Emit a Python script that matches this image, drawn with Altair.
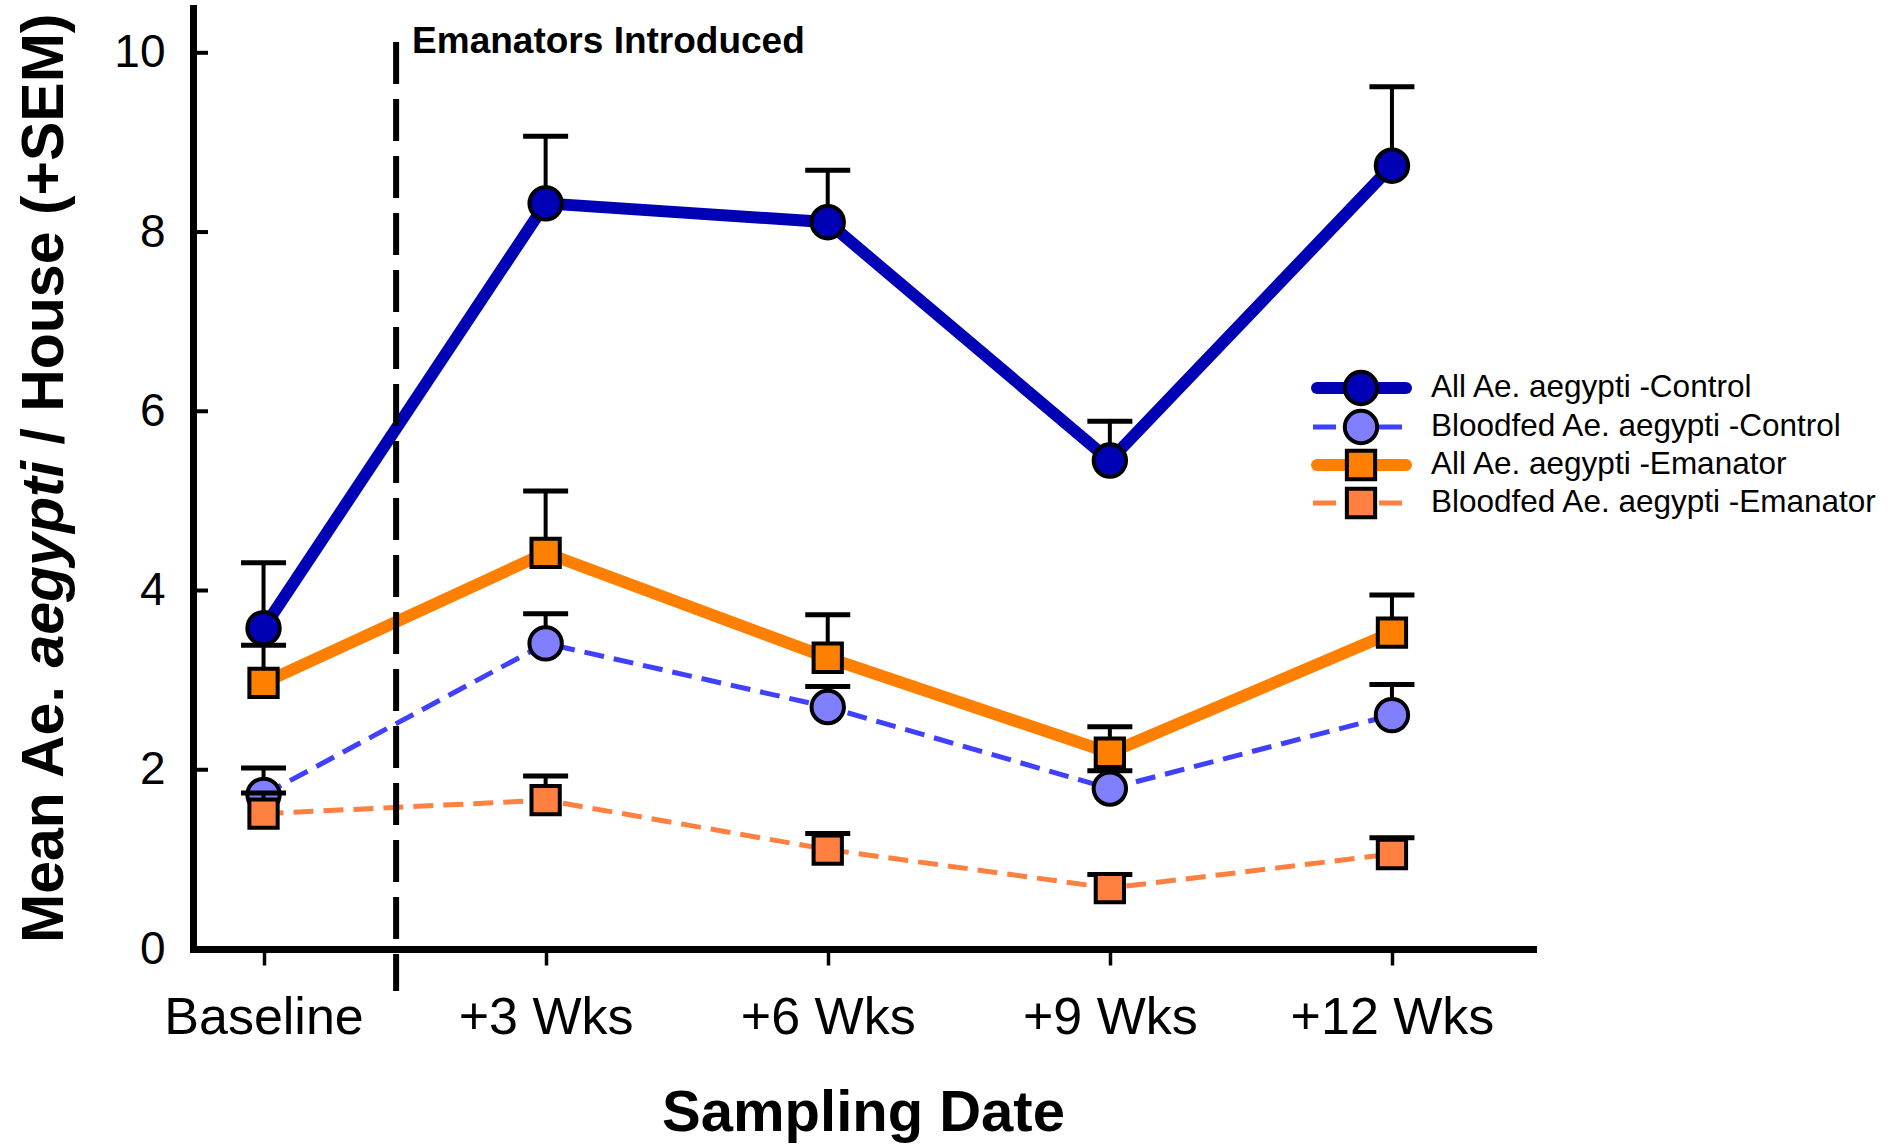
import json
import altair as alt
import pandas as pd

# ---------------- data ----------------
dates = ["Baseline", "+3 Wks", "+6 Wks", "+9 Wks", "+12 Wks"]
series_names = [
    "All Ae. aegypti -Control",
    "Bloodfed Ae. aegypti -Control",
    "All Ae. aegypti -Emanator",
    "Bloodfed Ae. aegypti -Emanator",
]
all_control_mean = [3.58, 8.32, 8.11, 5.45, 8.74]
all_control_sem = [0.73, 0.75, 0.58, 0.44, 0.88]
blood_control_mean = [1.72, 3.41, 2.70, 1.79, 2.61]
blood_control_sem = [0.30, 0.33, 0.23, 0.20, 0.34]
all_emanator_mean = [2.97, 4.42, 3.25, 2.19, 3.53]
all_emanator_sem = [0.42, 0.69, 0.48, 0.29, 0.42]
blood_emanator_mean = [1.51, 1.66, 1.11, 0.68, 1.06]
blood_emanator_sem = [0.23, 0.27, 0.18, 0.15, 0.18]
y_ticks = [0, 2, 4, 6, 8, 10]
emanator_x = 0.47
annotation_text = "Emanators Introduced"
y_title_parts = ["Mean Ae.", "aegypti", "/ House (+SEM)"]
x_title = "Sampling Date"

means = [all_control_mean, blood_control_mean, all_emanator_mean, blood_emanator_mean]
sems = [all_control_sem, blood_control_sem, all_emanator_sem, blood_emanator_sem]

rows = []
for s, m, e in zip(series_names, means, sems):
    for i, d in enumerate(dates):
        rows.append({"idx": i, "date": d, "series": s, "mean": m[i], "upper": round(m[i] + e[i], 3)})
df = pd.DataFrame(rows)

# ---------------- styles ----------------
styles = {
    series_names[0]: dict(line="#0000B4", fill="#0000B4", shape="circle", width=12, dash=None),
    series_names[1]: dict(line="#4040FF", fill="#8080FF", shape="circle", width=5, dash=[20, 10]),
    series_names[2]: dict(line="#FF8000", fill="#FF8000", shape="square", width=12, dash=None),
    series_names[3]: dict(line="#FF8040", fill="#FF8040", shape="square", width=5, dash=[20, 10]),
}
sym_size = {"circle": 1050, "square": 800}
FONT = "Liberation Sans"
W, H = 1340, 941

xs = alt.Scale(domain=[-0.25, 4.5], nice=False, zero=False)
ys = alt.Scale(domain=[0, 10.5], nice=False, zero=False)

label_expr = json.dumps(dates) + "[datum.value]"
x_axis = alt.Axis(
    values=list(range(len(dates))), labelExpr=label_expr, title=x_title,
    titleFont=FONT, titleFontSize=58, titleFontWeight="bold", titleColor="black",
    titleY=181, titleBaseline="alphabetic",
    labelFont=FONT, labelFontSize=52, labelColor="black", labelPadding=27,
    labelFlush=False, labelOverlap=False, labelLimit=0,
    tickSize=16, tickWidth=3.5, tickColor="black",
    domainWidth=7, domainColor="black", domainCap="square", grid=False,
)
y_axis = alt.Axis(
    values=y_ticks, title=None, ticks=False,
    labelFont=FONT, labelFontSize=46, labelColor="black", labelPadding=28,
    domainWidth=7, domainColor="black", domainCap="square", grid=False,
)

X = alt.X("idx:Q", scale=xs, axis=x_axis)


def Y(field):
    return alt.Y(f"{field}:Q", scale=ys, axis=y_axis)


layers = []

# inward y ticks
tick_df = pd.DataFrame({"t": y_ticks})
layers.append(
    alt.Chart(tick_df).mark_rule(color="black", strokeWidth=4).encode(
        y=Y("t"), x=alt.value(0), x2=alt.value(15)
    )
)

# series lines
for s in series_names:
    st = styles[s]
    kw = dict(color=st["line"], strokeWidth=st["width"])
    if st["dash"]:
        kw["strokeDash"] = st["dash"]
    layers.append(
        alt.Chart(df[df.series == s]).mark_line(**kw).encode(x=X, y=Y("mean"))
    )

# vertical dashed line marking emanator introduction
vline_df = pd.DataFrame({"idx": [emanator_x], "top": [10.12], "bottom": [-0.47]})
layers.append(
    alt.Chart(vline_df).mark_rule(color="black", strokeWidth=6, strokeDash=[42, 15]).encode(
        x=X, y=Y("top"), y2="bottom:Q"
    )
)

# error bars + points per series
for s in series_names:
    st = styles[s]
    sd = df[df.series == s]
    layers.append(
        alt.Chart(sd).mark_rule(color="black", strokeWidth=4, opacity=1).encode(x=X, y=Y("mean"), y2="upper:Q")
    )
    layers.append(
        alt.Chart(sd).mark_tick(color="black", orient="horizontal", size=45, thickness=5, opacity=1).encode(
            x=X, y=Y("upper")
        )
    )
    layers.append(
        alt.Chart(sd).mark_point(
            shape=st["shape"], filled=True, fill=st["fill"], stroke="black",
            strokeWidth=4, size=sym_size[st["shape"]], opacity=1,
        ).encode(x=X, y=Y("mean"))
    )

# annotation
ann_df = pd.DataFrame({"idx": [emanator_x], "y": [10.0], "t": [annotation_text]})
layers.append(
    alt.Chart(ann_df).mark_text(
        font=FONT, fontSize=37, fontWeight="bold", align="left", baseline="alphabetic",
        dx=16, color="black",
    ).encode(x=X, y=Y("y"), text="t:N")
)

# legend (manual)
leg_y = [380, 419, 457, 495]
for s, ly in zip(series_names, leg_y):
    st = styles[s]
    ldf = pd.DataFrame({"label": [s]})
    if st["dash"]:
        layers.append(
            alt.Chart(ldf).mark_rule(color=st["line"], strokeWidth=st["width"], strokeDash=[23, 43]).encode(
                x=alt.value(1120), x2=alt.value(1209), y=alt.value(ly)
            )
        )
    else:
        layers.append(
            alt.Chart(ldf).mark_rule(color=st["line"], strokeWidth=st["width"], strokeCap="round").encode(
                x=alt.value(1124), x2=alt.value(1213), y=alt.value(ly)
            )
        )
    layers.append(
        alt.Chart(ldf).mark_point(
            shape=st["shape"], filled=True, fill=st["fill"], stroke="black",
            strokeWidth=4, size=sym_size[st["shape"]], opacity=1,
        ).encode(x=alt.value(1168), y=alt.value(ly))
    )
    layers.append(
        alt.Chart(ldf).mark_text(
            font=FONT, fontSize=31.5, align="left", baseline="middle", color="black"
        ).encode(x=alt.value(1238), y=alt.value(ly), text="label:N")
    )

# y-axis title (mixed bold / bold italic)
title_y = [935, 659.6, 436.6]
title_style = ["normal", "italic", "normal"]
for part, ty, fs in zip(y_title_parts, title_y, title_style):
    tdf = pd.DataFrame({"t": [part]})
    layers.append(
        alt.Chart(tdf).mark_text(
            font=FONT, fontSize=59, fontWeight="bold", fontStyle=fs, angle=270,
            align="left", baseline="alphabetic", color="black",
        ).encode(x=alt.value(-130), y=alt.value(ty), text="t:N")
    )

chart = (
    alt.layer(*layers)
    .properties(
        width=W, height=H,
        padding={"left": 193, "top": 8, "right": 362, "bottom": 198},
        autosize=alt.AutoSizeParams(type="none"),
        background="white",
    )
    .configure_view(stroke=None)
)

chart.save("out.html", embed_options={"renderer": "svg", "actions": False})
